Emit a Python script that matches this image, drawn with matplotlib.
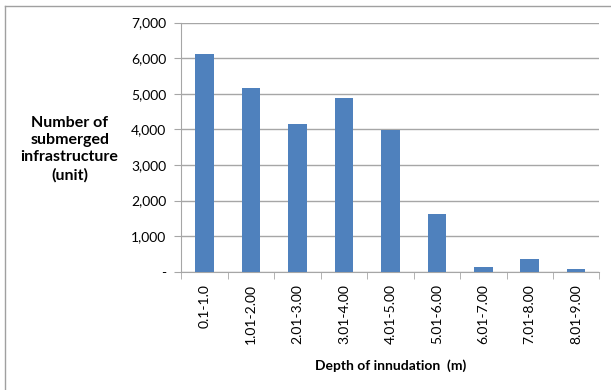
import numpy as np
import matplotlib.pyplot as plt
from matplotlib.lines import Line2D
from matplotlib.ticker import FuncFormatter

# Data
categories = ["0.1-1.0", "1.01-2.00", "2.01-3.00", "3.01-4.00", "4.01-5.00",
              "5.01-6.00", "6.01-7.00", "7.01-8.00", "8.01-9.00"]
counts = [6110, 5165, 4150, 4880, 3990, 1615, 140, 355, 85]
y_ticks = [0, 1000, 2000, 3000, 4000, 5000, 6000, 7000]

plt.rcParams['font.family'] = ['Lato', 'DejaVu Sans']

fig = plt.figure(figsize=(6.11, 3.90), dpi=100)
ax = fig.add_axes([0.297, 0.303, 0.684, 0.639])

x = np.arange(len(categories))
ax.bar(x, counts, width=0.4, color='#4F81BD', zorder=3)

ax.set_xlim(-0.5, len(categories) - 0.5)
ax.set_ylim(0, 7000)
ax.set_yticks(y_ticks)
ax.yaxis.set_major_formatter(FuncFormatter(lambda v, p: '-' if v == 0 else f'{int(v):,}'))
ax.grid(axis='y', color='#a6a6a6', linewidth=1, zorder=0)

ax.set_xticks(x)
ax.set_xticklabels(categories, rotation=90, fontsize=10)
ax.tick_params(axis='x', length=0, pad=9)
ax.set_xticks(np.arange(len(categories) + 1) - 0.5, minor=True)
ax.tick_params(axis='x', which='minor', length=5, color='#a6a6a6')
ax.tick_params(axis='y', labelsize=10, length=5, color='#a6a6a6', pad=6)

for s in ['top', 'right']:
    ax.spines[s].set_visible(False)
for s in ['left', 'bottom']:
    ax.spines[s].set_color('#a6a6a6')

ax.set_xlabel('Depth of innudation  (m)', fontsize=10, fontweight='bold', labelpad=11)
fig.text(0.114, 0.618, 'Number of\nsubmerged\ninfrastructure\n(unit)', ha='center', va='center',
         fontsize=11.5, fontweight='bold', linespacing=1.3)

# outer frame
fig.add_artist(Line2D([0.008, 0.008], [0, 0.985], color='#a0a0a0', lw=1, transform=fig.transFigure))
fig.add_artist(Line2D([0.008, 1.0], [0.985, 0.985], color='#a0a0a0', lw=1, transform=fig.transFigure))

fig.savefig('out.png', dpi=100)
